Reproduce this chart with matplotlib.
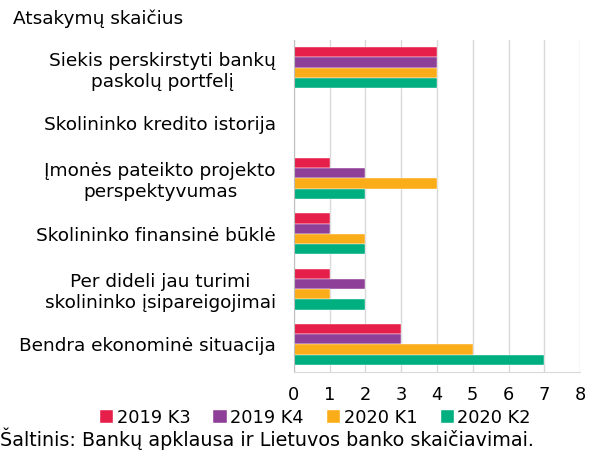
import numpy as np
import matplotlib
matplotlib.use("Agg")
from matplotlib import pyplot as plt

# Chart data
categories = [
    "Siekis perskirstyti bankų\npaskolų portfelį",
    "Skolininko kredito istorija",
    "Įmonės pateikto projekto\nperspektyvumas",
    "Skolininko finansinė būklė",
    "Per dideli jau turimi\nskolininko įsipareigojimai",
    "Bendra ekonominė situacija",
]
series_names = ["2019 K3", "2019 K4", "2020 K1", "2020 K2"]
k3_2019 = [4, 0, 1, 1, 1, 3]
k4_2019 = [4, 0, 2, 1, 2, 3]
k1_2020 = [4, 0, 4, 2, 1, 5]
k2_2020 = [4, 0, 2, 2, 2, 7]
colors = ["#E51F4A", "#8E3F97", "#FBAC19", "#00AF80"]

plt.rcParams['font.family'] = ['DejaVu Sans']
fs = 13.3

fig = plt.figure(figsize=(5.95, 4.5), dpi=100)
ax = fig.add_axes([0.494, 0.173, 0.481, 0.738])

y = np.arange(len(categories))[::-1]
bar_h = 0.185
all_series = [k3_2019, k4_2019, k1_2020, k2_2020]
for i, (vals, name, col) in enumerate(zip(all_series, series_names, colors)):
    offset = (1.5 - i) * bar_h
    ax.barh(y + offset, vals, height=bar_h, color=col, label=name,
            edgecolor="white", linewidth=0.3)

ax.set_xlim(0, 8)
ax.set_ylim(-0.5, len(categories) - 0.5)
ax.set_xticks(range(0, 9))
ax.set_yticks(y)
ax.set_yticklabels(categories, fontsize=fs, ha="right", multialignment="center")
ax.tick_params(axis="y", length=0, pad=13)
ax.tick_params(axis="x", length=0, labelsize=12.8, pad=10)
ax.grid(axis="x", color="#d9d9d9", linewidth=1)
ax.set_axisbelow(True)
for side in ["top", "right"]:
    ax.spines[side].set_visible(False)
ax.spines["left"].set_color("#bfbfbf")
ax.spines["bottom"].set_color("#d9d9d9")

fig.text(0.022, 0.958, "Atsakymų skaičius", fontsize=fs, va="center")
fig.legend(loc="center", bbox_to_anchor=(0.53, 0.072), ncol=4, frameon=False,
           fontsize=12.8, handlelength=0.75, handleheight=0.75, handletextpad=0.2,
           columnspacing=1.3, borderaxespad=0)
fig.text(0.0, 0.026, "Šaltinis: Bankų apklausa ir Lietuvos banko skaičiavimai.",
         fontsize=13.8, va="center")

fig.savefig("out.png", dpi=100)
